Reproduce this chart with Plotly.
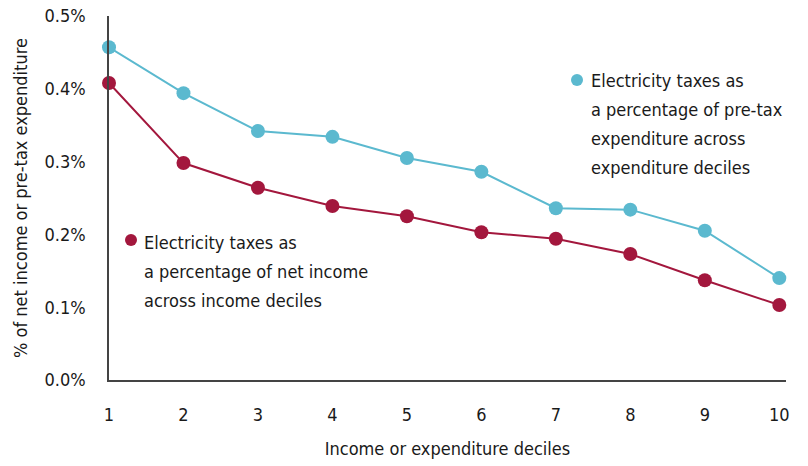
import plotly.graph_objects as go

deciles = [1, 2, 3, 4, 5, 6, 7, 8, 9, 10]
expenditure_share = [0.457, 0.394, 0.342, 0.334, 0.305, 0.286, 0.236, 0.234, 0.205, 0.140]
income_share = [0.408, 0.298, 0.264, 0.239, 0.225, 0.203, 0.194, 0.173, 0.137, 0.103]
y_ticks = [0.0, 0.1, 0.2, 0.3, 0.4, 0.5]
y_tick_labels = ["0.0%", "0.1%", "0.2%", "0.3%", "0.4%", "0.5%"]
exp_label = ["Electricity taxes as", "a percentage of pre-tax", "expenditure across", "expenditure deciles"]
inc_label = ["Electricity taxes as", "a percentage of net income", "across income deciles"]

TEAL = "#5BB9CF"
RED = "#A3173D"
FONT = "DejaVu Sans Condensed, Liberation Sans Narrow, Roboto, sans-serif"

fig = go.Figure()
fig.add_trace(go.Scatter(x=deciles, y=expenditure_share, mode="lines+markers",
                         line=dict(color=TEAL, width=2), marker=dict(color=TEAL, size=14),
                         cliponaxis=False, showlegend=False))
fig.add_trace(go.Scatter(x=deciles, y=income_share, mode="lines+markers",
                         line=dict(color=RED, width=2), marker=dict(color=RED, size=14),
                         cliponaxis=False, showlegend=False))

L, R, T, B = 109, 22, 16, 86
W, H = 808, 466
pw, ph = W - L - R, H - T - B

def px(x):
    return (x - L) / pw

def py(y):
    return (H - B - y) / ph

annotations = []
shapes = []

def add_label(lines, mx, my, tx, ys, color):
    shapes.append(dict(type="circle", xref="paper", yref="paper", xsizemode="pixel", ysizemode="pixel",
                       xanchor=px(mx), yanchor=py(my), x0=-6, x1=6, y0=-6, y1=6,
                       fillcolor=color, line=dict(width=0)))
    for line, yy in zip(lines, ys):
        annotations.append(dict(text=line, xref="paper", yref="paper", x=px(tx), y=py(yy),
                                xanchor="left", yanchor="middle", showarrow=False,
                                font=dict(family=FONT, size=18, color="#1a1a1a")))

add_label(exp_label, 577, 80, 589, [80, 109, 138, 168], TEAL)
add_label(inc_label, 131, 240, 142, [242, 271, 300], RED)

fig.update_layout(
    width=W, height=H, margin=dict(l=L, r=R, t=T, b=B),
    plot_bgcolor="white", paper_bgcolor="white",
    font=dict(family=FONT, size=18, color="#1a1a1a"),
    annotations=annotations, shapes=shapes,
    xaxis=dict(range=[1, 10.09], tickvals=deciles, showgrid=False, zeroline=False,
               showline=True, linecolor="#444", linewidth=1.5, ticks="outside", ticklen=0,
               ticklabelstandoff=18, tickfont=dict(size=18), automargin=False,
               title=dict(text="Income or expenditure deciles", standoff=18, font=dict(size=18))),
    yaxis=dict(range=[0, 0.5], tickvals=y_ticks, ticktext=y_tick_labels, showgrid=False,
               zeroline=False, showline=True, linecolor="#444", linewidth=1.5, ticks="outside",
               ticklen=0, ticklabelstandoff=18, tickfont=dict(size=18), automargin=False,
               title=dict(text="% of net income or pre-tax expenditure", standoff=12, font=dict(size=18))),
)

fig.write_html("out.html", config={"displayModeBar": False},
               post_script="document.body.style.margin='0';document.body.style.overflow='hidden';")
